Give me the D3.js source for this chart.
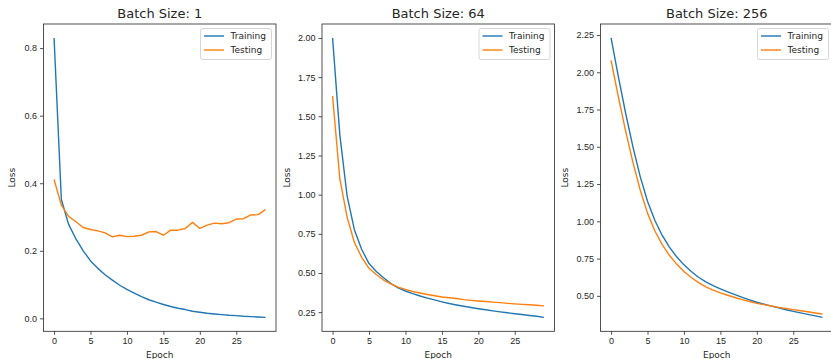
<!DOCTYPE html>
<meta charset="utf-8">
<style>

body {
  margin: 0;
  background: white;
}

svg {
  display: block;
  font-family: "DejaVu Sans", sans-serif;
}

.axis text {
  font-size: 9px;
  fill: #262626;
}

.axis path,
.axis line {
  stroke: #262626;
  stroke-width: 0.8px;
}

.frame {
  fill: none;
  stroke: #262626;
  stroke-width: 0.8px;
}

.title {
  font-size: 13px;
  text-anchor: middle;
  fill: #262626;
}

.label {
  font-size: 9px;
  text-anchor: middle;
  fill: #262626;
}

.series {
  fill: none;
  stroke-width: 1.4px;
  stroke-linejoin: round;
}

.legend rect {
  fill: white;
  fill-opacity: 0.8;
  stroke: #cccccc;
  stroke-width: 0.8px;
}

.legend text {
  font-size: 9px;
  fill: #262626;
}

</style>
<svg></svg>
<script src="https://cdn.jsdelivr.net/npm/d3@7"></script>
<script>

var width = 831;
var height = 359;

var epochs = d3.range(0, 30);
var seriesNames = ['Training', 'Testing'];
var colors = ['#1f77b4', '#ff7f0e'];
var xTicks = [0, 5, 10, 15, 20, 25];

var titles = ['Batch Size: 1', 'Batch Size: 64', 'Batch Size: 256'];

var train1 = [0.830, 0.352, 0.278, 0.235, 0.200, 0.170, 0.148, 0.129, 0.113, 0.098,
              0.086, 0.075, 0.064, 0.055, 0.048, 0.041, 0.035, 0.030, 0.026, 0.021,
              0.018, 0.015, 0.013, 0.011, 0.009, 0.008, 0.006, 0.005, 0.004, 0.003];
var test1 = [0.411, 0.335, 0.302, 0.286, 0.269, 0.263, 0.259, 0.253, 0.241, 0.246,
             0.242, 0.243, 0.246, 0.256, 0.257, 0.246, 0.261, 0.261, 0.266, 0.284,
             0.266, 0.276, 0.282, 0.280, 0.283, 0.294, 0.295, 0.306, 0.307, 0.322];

var train64 = [2.000, 1.380, 0.990, 0.775, 0.650, 0.560, 0.510, 0.470, 0.432, 0.405,
               0.385, 0.368, 0.353, 0.340, 0.328, 0.316, 0.305, 0.296, 0.288, 0.280,
               0.272, 0.265, 0.258, 0.252, 0.246, 0.240, 0.235, 0.229, 0.224, 0.217];
var test64 = [1.630, 1.100, 0.855, 0.695, 0.600, 0.530, 0.490, 0.455, 0.430, 0.410,
              0.395, 0.382, 0.372, 0.363, 0.355, 0.347, 0.342, 0.337, 0.330, 0.325,
              0.321, 0.318, 0.314, 0.311, 0.306, 0.303, 0.300, 0.297, 0.294, 0.290];

var train256 = [2.230, 1.970, 1.725, 1.500, 1.300, 1.135, 1.007, 0.907, 0.827, 0.762,
                0.708, 0.663, 0.625, 0.594, 0.568, 0.547, 0.527, 0.508, 0.490, 0.473,
                0.457, 0.444, 0.431, 0.419, 0.407, 0.396, 0.386, 0.376, 0.366, 0.356];
var test256 = [2.080, 1.835, 1.605, 1.395, 1.210, 1.055, 0.937, 0.845, 0.772, 0.713,
               0.664, 0.623, 0.589, 0.561, 0.539, 0.520, 0.504, 0.489, 0.475, 0.462,
               0.450, 0.441, 0.432, 0.423, 0.415, 0.408, 0.400, 0.393, 0.385, 0.378];

var yTicks1 = [0.0, 0.2, 0.4, 0.6, 0.8];
var yTicks64 = [0.25, 0.50, 0.75, 1.00, 1.25, 1.50, 1.75, 2.00];
var yTicks256 = [0.50, 0.75, 1.00, 1.25, 1.50, 1.75, 2.00, 2.25];

var panels = [
  { title: titles[0], series: [train1, test1], yTicks: yTicks1, fmt: '.1f', left: 43.5, yLabelX: 12 },
  { title: titles[1], series: [train64, test64], yTicks: yTicks64, fmt: '.2f', left: 322, yLabelX: 287 },
  { title: titles[2], series: [train256, test256], yTicks: yTicks256, fmt: '.2f', left: 600.5, yLabelX: 565 }
];

var plotWidth = 232.5;
var plotTop = 24;
var plotBottom = 331.3;

var svg = d3.select('svg')
  .attr('width', width)
  .attr('height', height);

panels.forEach(function (p) {
  var g = svg.append('g');

  // matplotlib style 5% margins around the data
  var x = d3.scaleLinear()
    .domain([-1.45, 30.45])
    .range([p.left, p.left + plotWidth]);

  var all = d3.merge(p.series);
  var ext = d3.extent(all);
  var pad = (ext[1] - ext[0]) * 0.05;
  var y = d3.scaleLinear()
    .domain([ext[0] - pad, ext[1] + pad])
    .range([plotBottom, plotTop]);

  g.append('g')
    .attr('class', 'axis')
    .attr('transform', 'translate(0,' + plotBottom + ')')
    .call(d3.axisBottom(x).tickValues(xTicks).tickSize(3.5).tickPadding(3).tickSizeOuter(0))
    .call(function (s) { s.select('.domain').remove(); });

  g.append('g')
    .attr('class', 'axis')
    .attr('transform', 'translate(' + p.left + ',0)')
    .call(d3.axisLeft(y).tickValues(p.yTicks).tickFormat(d3.format(p.fmt)).tickSize(3.5).tickPadding(3).tickSizeOuter(0))
    .call(function (s) { s.select('.domain').remove(); });

  var line = d3.line()
    .x(function (d, i) { return x(epochs[i]); })
    .y(function (d) { return y(d); });

  g.selectAll('.series')
    .data(p.series)
    .enter().append('path')
    .attr('class', 'series')
    .attr('stroke', function (d, i) { return colors[i]; })
    .attr('d', line);

  g.append('rect')
    .attr('class', 'frame')
    .attr('x', p.left)
    .attr('y', plotTop)
    .attr('width', plotWidth)
    .attr('height', plotBottom - plotTop);

  g.append('text')
    .attr('class', 'title')
    .attr('x', p.left + plotWidth / 2)
    .attr('y', 18)
    .text(p.title);

  g.append('text')
    .attr('class', 'label')
    .attr('x', p.left + plotWidth / 2)
    .attr('y', 357.5)
    .text('Epoch');

  g.append('text')
    .attr('class', 'label')
    .attr('transform', 'translate(' + (p.yLabelX + 3) + ',' + ((plotTop + plotBottom) / 2) + ') rotate(-90)')
    .text('Loss');

  // legend, upper right
  var lw = 71;
  var lx = p.left + plotWidth - 4.5 - lw;
  var legend = g.append('g')
    .attr('class', 'legend')
    .attr('transform', 'translate(' + lx + ',28.5)');

  legend.append('rect')
    .attr('width', lw)
    .attr('height', 31)
    .attr('rx', 2);

  var item = legend.selectAll('.item')
    .data(seriesNames)
    .enter().append('g')
    .attr('class', 'item')
    .attr('transform', function (d, i) { return 'translate(0,' + (7.5 + i * 14) + ')'; });

  item.append('line')
    .attr('x1', 3.5)
    .attr('x2', 23.5)
    .attr('stroke', function (d, i) { return colors[i]; })
    .attr('stroke-width', 1.4);

  item.append('text')
    .attr('x', 30)
    .attr('dy', '0.35em')
    .text(function (d) { return d; });
});

</script>
